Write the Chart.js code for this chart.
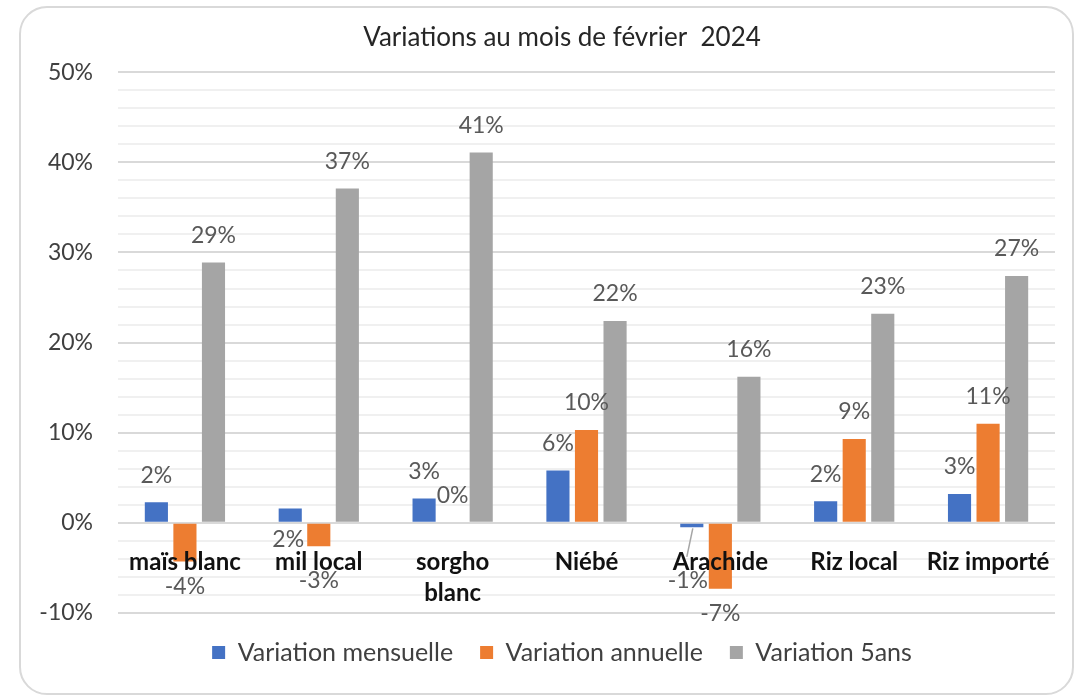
<!DOCTYPE html>
<html>
<head>
<meta charset="utf-8">
<script src="https://cdn.jsdelivr.net/npm/chart.js@4.4.1/dist/chart.umd.min.js"></script>
<style>
  html, body { margin: 0; padding: 0; background: #fff; }
  #wrap { position: relative; width: 1076px; height: 698px; }
  #frame {
    position: absolute; left: 19px; top: 6px; width: 1055px; height: 689px;
    border: 2px solid #d9d9d9; border-radius: 28px; box-sizing: border-box;
    pointer-events: none;
  }
</style>
</head>
<body>
<div id="wrap">
  <canvas id="variationsChart" width="1076" height="698"></canvas>
  <div id="frame"></div>
</div>
<script>
// chart data
var categories = ['maïs blanc', 'mil local', ['sorgho', 'blanc'], 'Niébé', 'Arachide', 'Riz local', 'Riz importé'];
var variationMensuelle = [2.3, 1.6, 2.7, 5.8, -0.5, 2.4, 3.2];
var variationAnnuelle = [-4.3, -2.6, 0, 10.3, -7.3, 9.3, 11.0];
var variation5ans = [28.9, 37.1, 41.1, 22.4, 16.2, 23.2, 27.4];
var seriesNames = ['Variation mensuelle', 'Variation annuelle', 'Variation 5ans'];
var yTicks = [-10, 0, 10, 20, 30, 40, 50];

var FONT = 'Lato, "Open Sans", sans-serif';

// Excel-style rounding (away from zero)
function pct(v) {
    var r = Math.sign(v) * Math.round(Math.abs(v));
    return (r === 0 ? 0 : r) + '%';
}

// widest y label, so the mirrored labels can sit right-aligned left of the plot
var mctx = document.createElement('canvas').getContext('2d');
mctx.font = 'normal 23px ' + FONT;
var widestY = Math.max.apply(null, yTicks.map(function(v) { return mctx.measureText(v + '%').width; }));

// data labels drawn above / below each bar
var barLabels = {
    id: 'barLabels',
    afterDatasetsDraw: function(chart, args, opts) {
        var ctx = chart.ctx;
        var zeroY = chart.scales.y.getPixelForValue(0);
        ctx.save();
        ctx.font = '23px ' + FONT;
        ctx.fillStyle = '#595959';
        ctx.textAlign = 'center';
        ctx.textBaseline = 'middle';
        chart.data.datasets.forEach(function(ds, di) {
            var meta = chart.getDatasetMeta(di);
            meta.data.forEach(function(bar, i) {
                var v = ds.data[i];
                var x = bar.x, y;
                var moved = false;
                if (v >= 0) {
                    y = bar.y - 27;
                } else {
                    y = bar.y + 25;
                    // keep clear of the category labels
                    if (y < zeroY + 58) { y = zeroY + 58; moved = true; }
                }
                var n = opts.nudges[di + ',' + i];
                if (n) { x += n[0]; y += n[1]; }
                if (moved && Math.abs(bar.y - zeroY) < 8) {
                    x -= 4;
                    ctx.strokeStyle = '#a6a6a6';
                    ctx.lineWidth = 1.5;
                    ctx.beginPath();
                    ctx.moveTo(bar.x + 1, bar.y + 1);
                    ctx.lineTo(x - 1, y - 24);
                    ctx.stroke();
                }
                ctx.fillText(pct(v), x, y);
            });
        });
        ctx.restore();
    }
};

var ctx = document.getElementById('variationsChart').getContext('2d');
var chart = new Chart(ctx, {
    type: 'bar',
    data: {
        labels: categories,
        datasets: [{
            label: seriesNames[0],
            data: variationMensuelle,
            backgroundColor: '#4472C4'
        }, {
            label: seriesNames[1],
            data: variationAnnuelle,
            backgroundColor: '#ED7D31'
        }, {
            label: seriesNames[2],
            data: variation5ans,
            backgroundColor: '#A5A5A5'
        }]
    },
    options: {
        responsive: false,
        animation: false,
        devicePixelRatio: 1,
        layout: { padding: { left: 69, right: 21, top: 0, bottom: 23 } },
        datasets: {
            bar: { categoryPercentage: 0.64, barPercentage: 0.81 }
        },
        scales: {
            x: {
                position: { y: 0 },
                grid: { display: false, drawTicks: false },
                border: { display: false },
                ticks: {
                    z: 1,
                    padding: 24,
                    maxRotation: 0,
                    autoSkip: false,
                    color: '#111111',
                    font: { family: FONT, size: 24, weight: 'bold', lineHeight: 1.3 }
                }
            },
            y: {
                min: -10,
                max: 50,
                afterFit: function(scale) { scale.width = 49; },
                border: { display: false },
                grid: {
                    drawTicks: false,
                    lineWidth: 2,
                    color: function(c) {
                        return yTicks.indexOf(c.tick.value) >= 0 ? '#d9d9d9' : '#f0f0f0';
                    }
                },
                ticks: {
                    stepSize: 2,
                    autoSkip: false,
                    mirror: true,
                    crossAlign: 'far',
                    padding: -(25 + widestY),
                    color: '#404040',
                    font: { family: FONT, size: 23 },
                    callback: function(v) {
                        return yTicks.indexOf(v) >= 0 ? v + '%' : '';
                    }
                }
            }
        },
        plugins: {
            title: {
                display: true,
                text: 'Variations au mois de février  2024',
                color: '#262626',
                font: { family: FONT, size: 26, weight: 'normal', lineHeight: 1.2 },
                padding: { top: 22, bottom: 19 }
            },
            legend: {
                position: 'bottom',
                labels: {
                    boxWidth: 13,
                    boxHeight: 13,
                    padding: 27,
                    color: '#404040',
                    font: { family: FONT, size: 25 }
                }
            },
            tooltip: { enabled: false },
            barLabels: {
                nudges: { '0,1': [-2, 58] }
            }
        }
    },
    plugins: [barLabels]
});
</script>
</body>
</html>
